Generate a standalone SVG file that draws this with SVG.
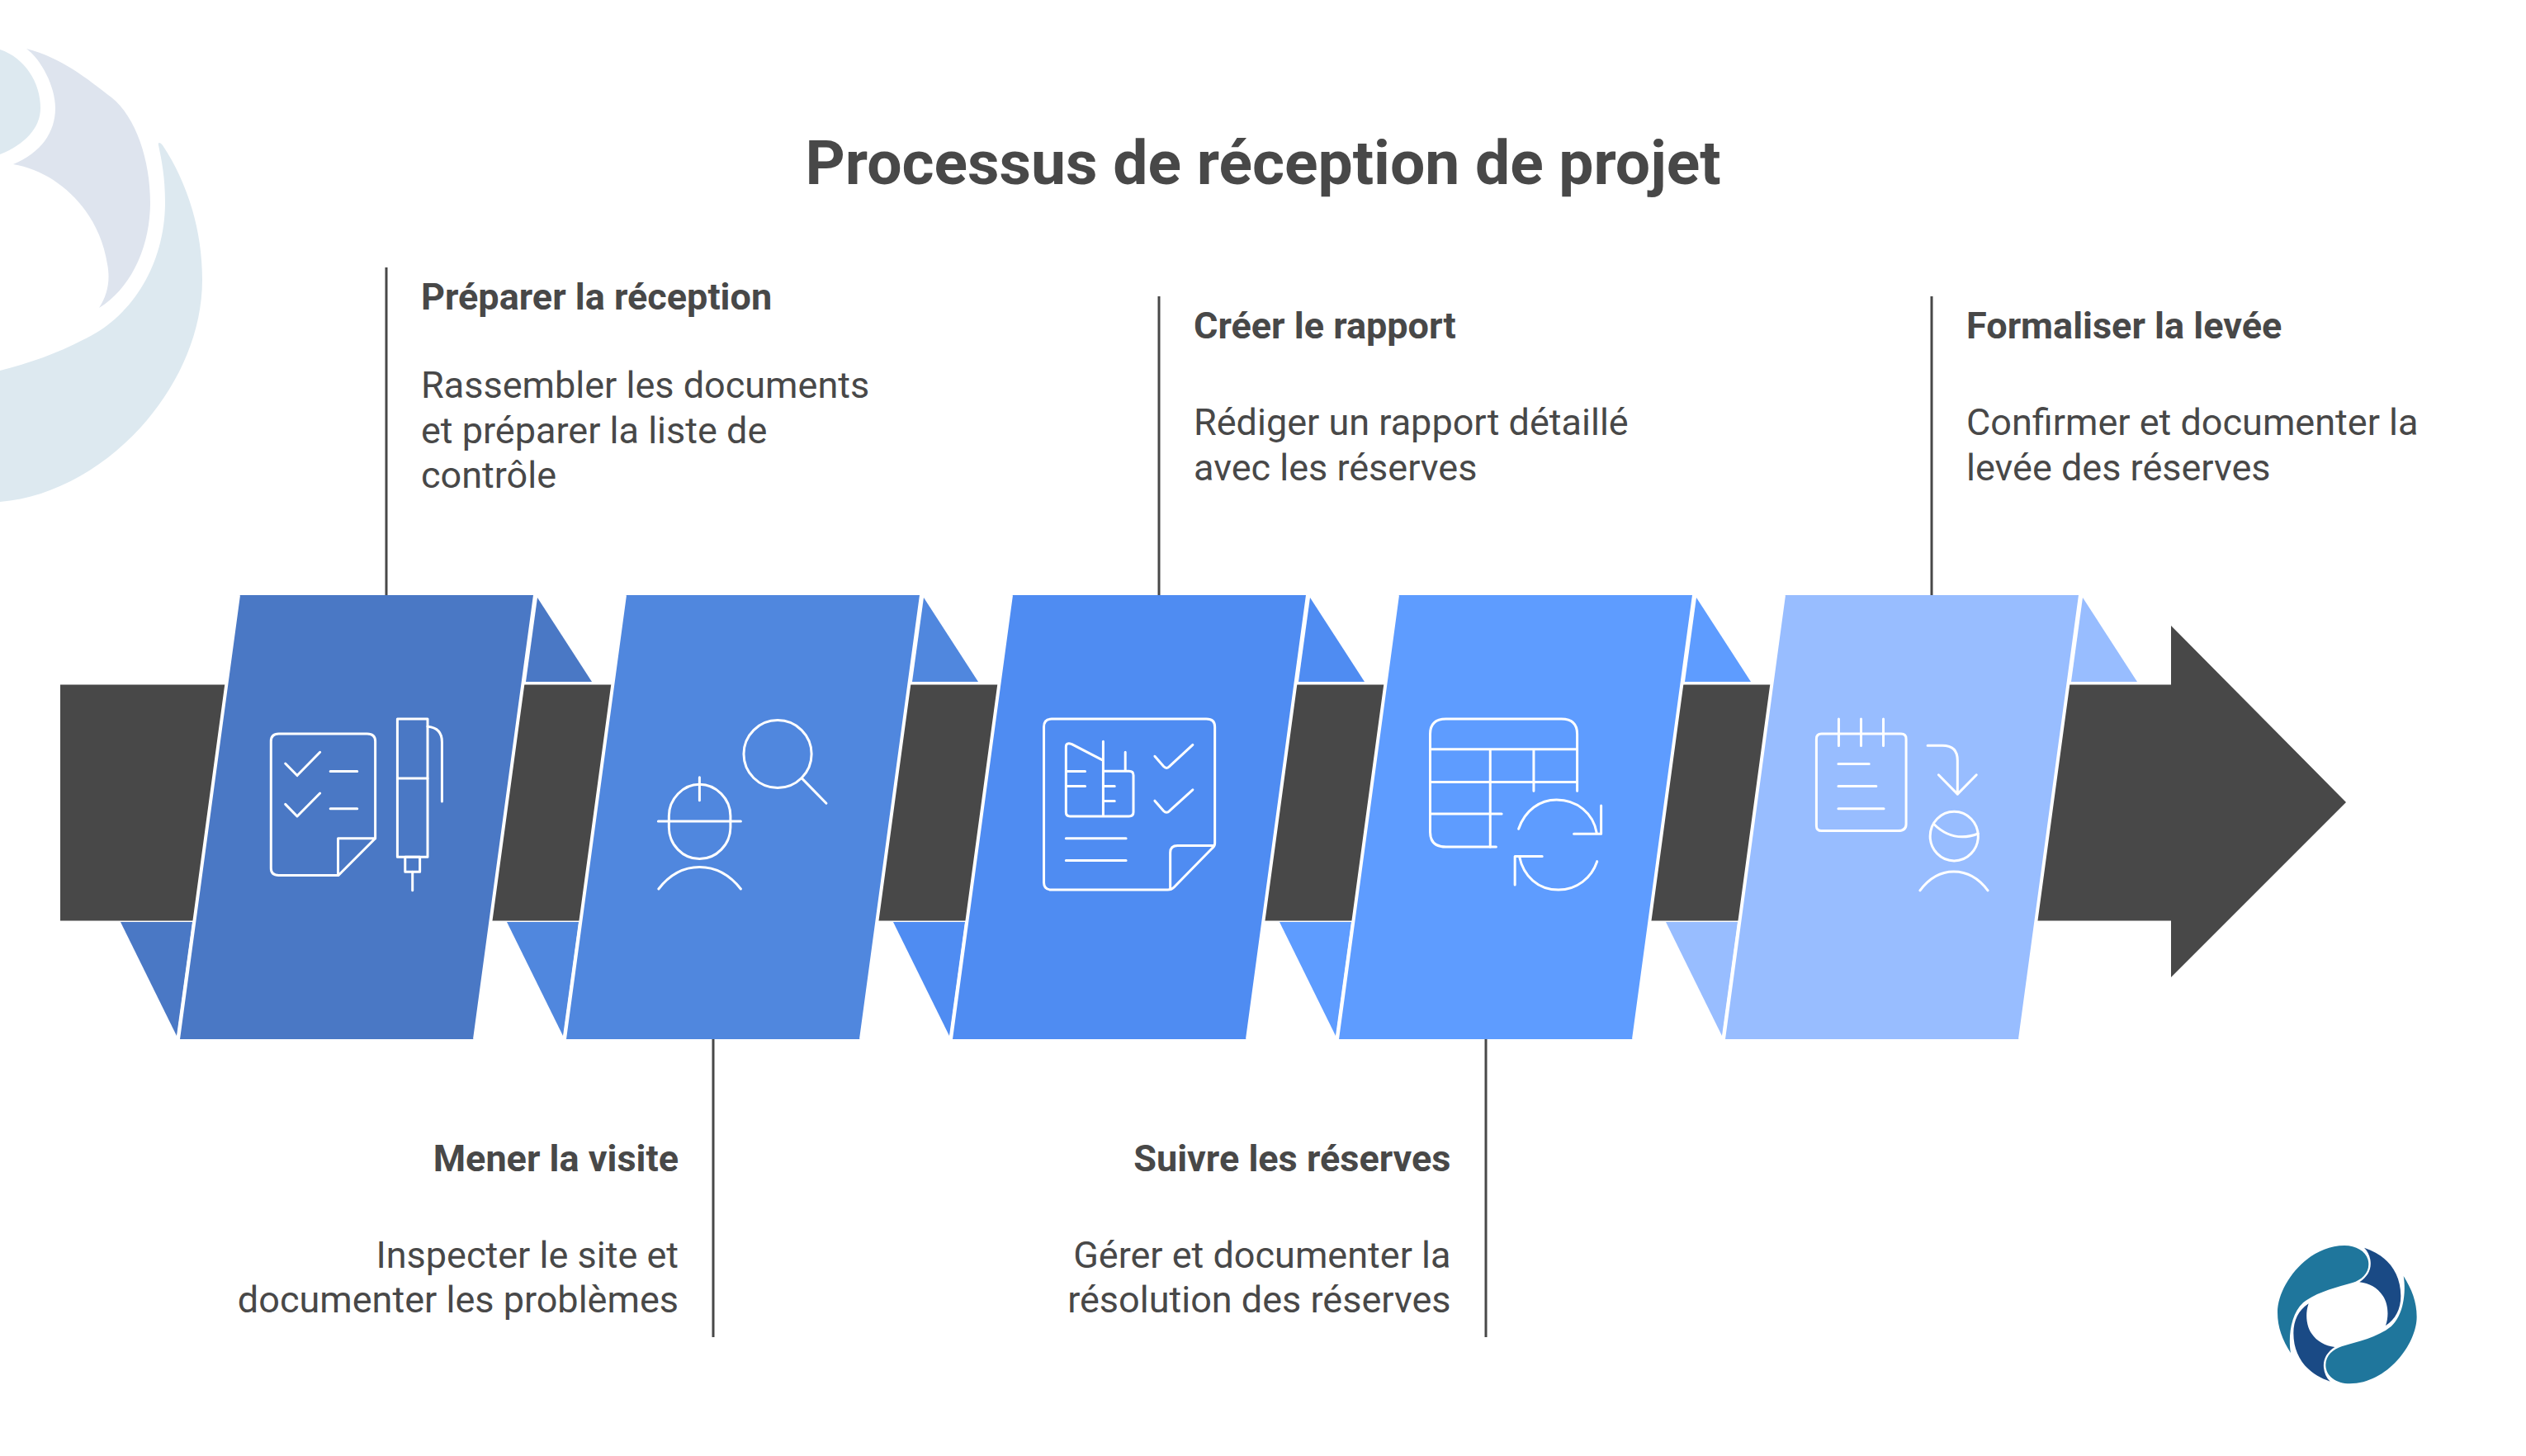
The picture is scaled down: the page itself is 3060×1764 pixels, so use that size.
<svg xmlns="http://www.w3.org/2000/svg" width="3060" height="1764" viewBox="0 0 3060 1764">
<style>
text{font-family:Roboto,"Liberation Sans",sans-serif;fill:#484848}
.title{font-size:75px;font-weight:700;text-anchor:middle}
.h{font-size:45px;font-weight:700}
.b{font-size:45px;font-weight:400}
.r{text-anchor:end}
.dark{fill:#484848}
.edge{stroke:#fff;stroke-width:4;fill:none}
.lead{stroke:#484848;stroke-width:3;fill:none}
.ic path,.ic ellipse,.ic rect{fill:none;stroke:#fff;stroke-width:3;stroke-linecap:round;stroke-linejoin:round;vector-effect:non-scaling-stroke}
.c1{fill:#4a78c5}.c2{fill:#5087de}.c3{fill:#4f8cf2}.c4{fill:#5e9cff}.c5{fill:#98bdff}
</style>
<g id="watermark">
<path fill="#dee4ee" d="M32 59C75 70 105 95 135 118C165 142 182 195 182 245C182 300 158 350 120 373C130 358 134 340 130 320C120 255 70 208 16 199C50 185 67 160 67 131C67 105 50 72 32 59Z"/>
<path fill="#dde9f0" d="M0 60C30 70 49 100 49 131C49 155 30 175 0 187Z"/>
<path fill="#dde9f0" d="M0 449C35 440 70 428 100 412C160 385 200 320 200 245C200 215 196 195 192 176C191 172 194 172 197 176C225 218 245 275 245 339C245 470 125 598 0 608Z"/>
</g>
<g id="title"><text class="title" x="1530" y="223">Processus de réception de projet</text></g>
<g id="arrow"><polygon class="dark" points="73,829.5 2630,829.5 2630,758 2842,972 2630,1184 2630,1115.5 73,1115.5"/></g>
<g id="connectors">
<path class="lead" d="M468 324V722"/>
<path class="lead" d="M864 1258V1620"/>
<path class="lead" d="M1404 359V722"/>
<path class="lead" d="M1800 1258V1620"/>
<path class="lead" d="M2340 359V722"/>
</g>
<g id="step1">
<polygon class="c1" points="651,724 717,826 637,826"/>
<polygon class="c1" points="146,1117 233,1117 214,1255"/>
<polygon class="c1" points="289,721 648,721 575,1259 216,1259"/>
<path class="edge" d="M289 721L216 1259M648 721L575 1259"/>
<g class="ic" transform="translate(60 700) scale(.4464 .3827)">
<path d="M622 494H862Q884 494 884 518V825L784 942H622Q601 942 601 920V518Q601 494 622 494Z"/>
<path d="M884 825H783V942"/>
<path d="M640 588L672 626L734 552M640 717L672 755L734 682M762 613H835M762 731H835"/>
<rect x="944" y="447" width="82" height="437"/>
<path d="M944 635H1026M1026 471Q1065 475 1065 520V708"/>
<rect x="965" y="884" width="40" height="47"/>
<path d="M985 931V990"/>
</g>
<text class="h" x="510" y="375">Préparer la réception</text>
<text class="b" x="510" y="482">Rassembler les documents</text>
<text class="b" x="510" y="537">et préparer la liste de</text>
<text class="b" x="510" y="591">contrôle</text>
</g>
<g id="step2">
<polygon class="c2" points="1119,724 1185,826 1105,826"/>
<polygon class="c2" points="614,1117 701,1117 682,1255"/>
<polygon class="c2" points="757,721 1116,721 1043,1259 684,1259"/>
<path class="edge" d="M757 721L684 1259M1116 721L1043 1259"/>
<g class="ic" transform="translate(680 700) scale(.4464 .3827)">
<ellipse cx="587" cy="558" rx="92" ry="107"/>
<path d="M652 634L719 714"/>
<path d="M292 754C292 700 330 654 375 654C420 654 459 700 459 754V790C459 845 420 890 375 890C330 890 292 845 292 790Z"/>
<path d="M375 632V705M263 771H487M264 985Q310 916 375 916Q440 916 487 985"/>
</g>
<text class="h r" x="822" y="1419">Mener la visite</text>
<text class="b r" x="822" y="1536">Inspecter le site et</text>
<text class="b r" x="822" y="1590">documenter les problèmes</text>
</g>
<g id="step3">
<polygon class="c3" points="1587,724 1653,826 1573,826"/>
<polygon class="c3" points="1082,1117 1169,1117 1150,1255"/>
<polygon class="c3" points="1225,721 1584,721 1511,1259 1152,1259"/>
<path class="edge" d="M1225 721L1152 1259M1584 721L1511 1259"/>
<g class="ic" transform="translate(1140 700) scale(.4464 .3827)">
<path d="M300 447H720Q743 447 743 472V840Q743 850 735 857L632 980Q625 988 615 988H300Q279 988 279 965V472Q279 447 300 447Z"/>
<path d="M740 848H642Q622 848 622 870V985"/>
<path d="M438 577L355 527Q339 520 339 535V742Q339 755 350 755H510Q522 755 522 742V625Q522 612 510 612H440M440 518V755M500 552V612M342 613H391M342 660H391M442 660H471M442 707H471"/>
<path d="M580 565L604 597Q612 607 620 597L683 529M580 706L604 738Q612 748 620 738L683 671"/>
<path d="M339 825H502M339 895H502"/>
</g>
<text class="h" x="1446" y="410">Créer le rapport</text>
<text class="b" x="1446" y="527">Rédiger un rapport détaillé</text>
<text class="b" x="1446" y="582">avec les réserves</text>
</g>
<g id="step4">
<polygon class="c4" points="2055,724 2121,826 2041,826"/>
<polygon class="c4" points="1550,1117 1637,1117 1618,1255"/>
<polygon class="c4" points="1693,721 2052,721 1979,1259 1620,1259"/>
<path class="edge" d="M1693 721L1620 1259M2052 721L1979 1259"/>
<g class="ic" transform="translate(1620 700) scale(.4464 .3827)">
<path d="M651 675V495Q651 447 608 447H295Q252 447 252 495V805Q252 852 295 852H431"/>
<path d="M254 543H651M254 647H651M254 747H446M415 545V852M533 545V675"/>
<path d="M492 795C510 735 550 703 595 703C650 703 695 745 704 808M642 811H716V721"/>
<path d="M705 898C690 950 650 988 600 988C545 988 505 945 494 882M556 882H482V972"/>
</g>
<text class="h r" x="1757.5" y="1419">Suivre les réserves</text>
<text class="b r" x="1757.5" y="1536">Gérer et documenter la</text>
<text class="b r" x="1757.5" y="1590">résolution des réserves</text>
</g>
<g id="step5">
<polygon class="c5" points="2523,724 2589,826 2509,826"/>
<polygon class="c5" points="2018,1117 2105,1117 2086,1255"/>
<polygon class="c5" points="2161,721 2520,721 2447,1259 2088,1259"/>
<path class="edge" d="M2161 721L2088 1259M2520 721L2447 1259"/>
<g class="ic" transform="translate(2080 700) scale(.5102 .3827)">
<path d="M248 494H437Q449 494 449 510V780Q449 801 430 801H248Q236 801 236 785V510Q236 494 248 494Z"/>
<path d="M289 447V532M342 447V532M395 447V532M288 589H361M288 660H378M288 731H396"/>
<path d="M500 531H535Q571 531 571 578V685M526 624L571 685L616 624"/>
<ellipse cx="563" cy="818" rx="57" ry="78"/>
<path d="M515 780Q545 820 582 820Q600 820 620 810M482 990Q515 930 562 930Q610 930 643 990"/>
</g>
<text class="h" x="2382" y="410">Formaliser la levée</text>
<text class="b" x="2382" y="527">Confirmer et documenter la</text>
<text class="b" x="2382" y="582">levée des réserves</text>
</g>
<g id="logo" transform="translate(2740 1480) scale(.3333)">
<g id="logo-half">
<path fill="#1f769c" d="M105 478C75 430 57 385 57 330C57 230 165 87 300 87C350 87 388 115 388 155C388 190 360 212 330 222C270 240 200 255 150 295C105 335 95 420 105 478Z"/>
<path fill="#1a4a85" d="M372 95C450 120 505 180 505 270C505 320 485 355 450 378C462 345 460 300 440 270C420 240 390 224 355 220C385 200 398 175 395 145C393 125 385 108 372 95Z"/>
</g>
<use href="#logo-half" transform="rotate(180 310 338)"/>
</g>
</svg>
